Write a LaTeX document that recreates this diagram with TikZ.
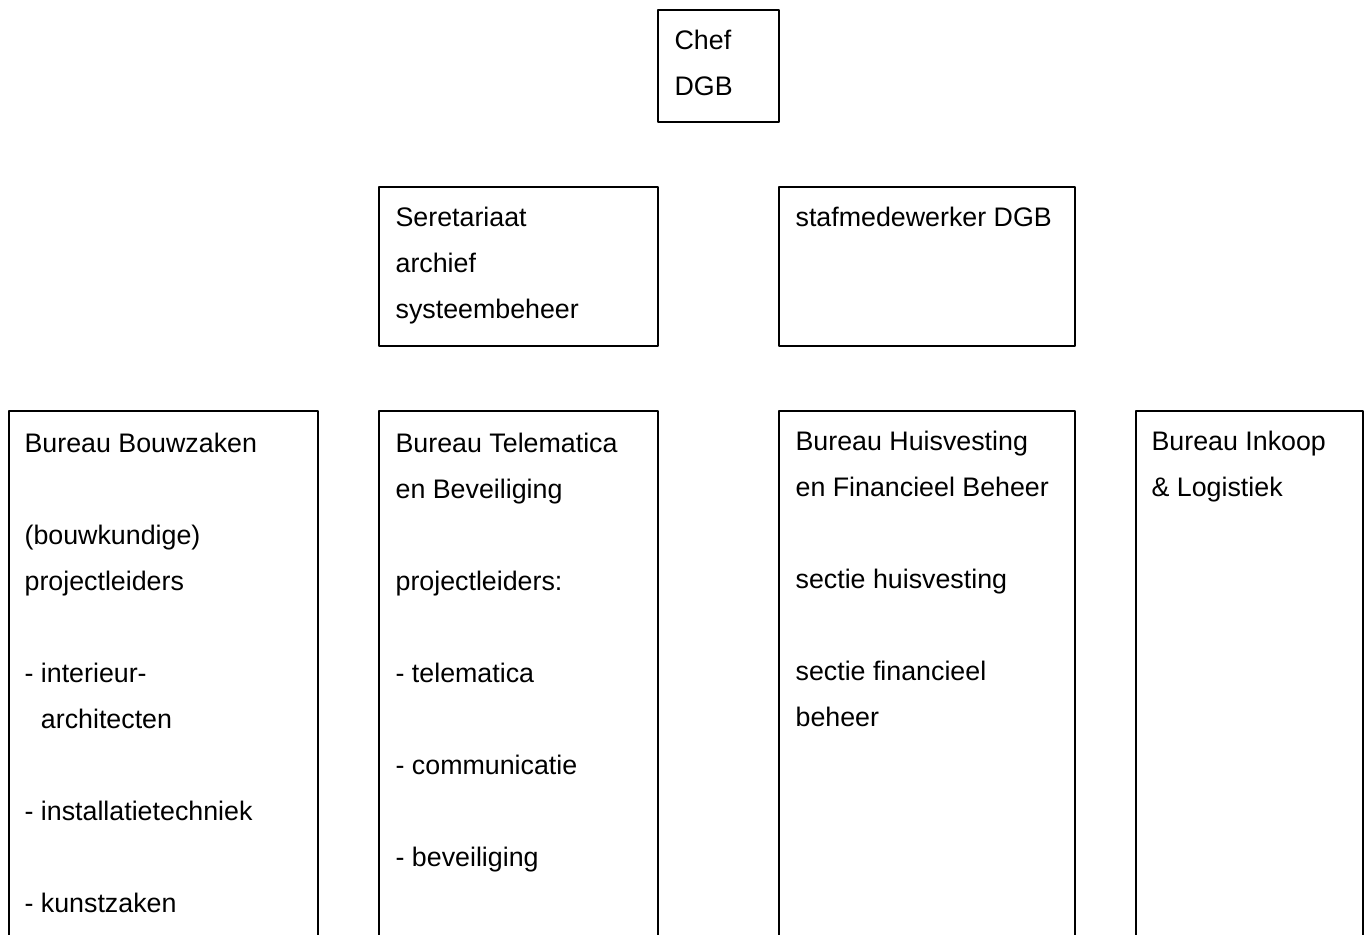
\documentclass[tikz,border=0pt]{standalone}
\usepackage{fontspec}
\setmainfont{Liberation Sans}
\usetikzlibrary{fit}
\begin{document}
\begin{tikzpicture}[x=0.75pt,y=-0.75pt,line join=round,line cap=round,
	font=\fontsize{20.1}{34.5}\selectfont]
	\tikzset{box/.style={draw,line width=1pt,inner sep=0pt},
		txt/.style={anchor=north west,inner sep=0pt,align=left}}
	\useasboundingbox (0,0) rectangle (1368,935);
	\clip (0,0) rectangle (1368,935);
	% bovenste laag
	\node[box,fit={(658,10) (779,122)}] (chef) {};
	\node[box,fit={(379,187) (658,346)}] (secr) {};
	\node[box,fit={(779,187) (1075,346)}] (staf) {};
	% bureaus
	\node[box,fit={(9,411) (318,945)}] (bouw) {};
	\node[box,fit={(379,411) (658,945)}] (tele) {};
	\node[box,fit={(779,411) (1075,945)}] (huis) {};
	\node[box,fit={(1136,411) (1363,945)}] (inkoop) {};
	% teksten
	\node[txt] (chef-t) at ([shift={(17,20)}]chef.north west) {Chef\\DGB};
	\node[txt] (secr-t) at ([shift={(17,20)}]secr.north west) {Seretariaat\\archief\\systeembeheer};
	\node[txt] (staf-t) at ([shift={(17,20)}]staf.north west) {stafmedewerker DGB};
	\node[txt] (bouw-t) at ([shift={(16,22)}]bouw.north west)
		{Bureau Bouwzaken\\[34.5pt]
		(bouwkundige)\\projectleiders\\[34.5pt]
		- interieur-\\\phantom{- }architecten\\[34.5pt]
		- installatietechniek\\[34.5pt]
		- kunstzaken};
	\node[txt] (tele-t) at ([shift={(17,22)}]tele.north west)
		{Bureau Telematica\\en Beveiliging\\[34.5pt]
		projectleiders:\\[34.5pt]
		- telematica\\[34.5pt]
		- communicatie\\[34.5pt]
		- beveiliging};
	\node[txt] (huis-t) at ([shift={(17,20)}]huis.north west)
		{Bureau Huisvesting\\en Financieel Beheer\\[34.5pt]
		sectie huisvesting\\[34.5pt]
		sectie financieel\\beheer};
	\node[txt] (inkoop-t) at ([shift={(16,20)}]inkoop.north west) {Bureau Inkoop\\\& Logistiek};
\end{tikzpicture}
\end{document}
